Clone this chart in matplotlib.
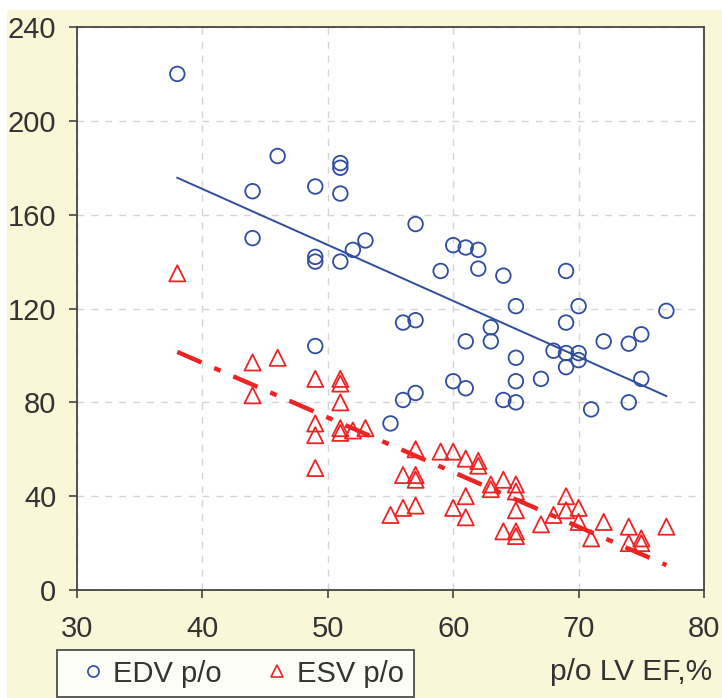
import numpy as np
import matplotlib
matplotlib.use("Agg")
import matplotlib.pyplot as plt
from matplotlib.patches import Rectangle
from matplotlib.lines import Line2D

plt.rcParams['font.family'] = ['Liberation Sans', 'DejaVu Sans']
plt.rcParams['lines.scale_dashes'] = False

# ejection fraction (%) per patient
ef = [38, 44, 44, 46, 49, 49, 49, 49, 51, 51, 51, 51, 52, 53, 55, 56, 56, 57,
      57, 57, 59, 60, 60, 61, 61, 61, 62, 62, 63, 63, 64, 64, 65, 65, 65, 65,
      67, 68, 69, 69, 69, 69, 70, 70, 70, 71, 72, 74, 74, 75, 75, 77]
edv = [220, 170, 150, 185, 172, 142, 140, 104, 182, 180, 169, 140, 145, 149, 71, 114, 81, 156,
       115, 84, 136, 147, 89, 146, 106, 86, 145, 137, 112, 106, 134, 81, 121, 99, 89, 80,
       90, 102, 136, 114, 101, 95, 121, 101, 98, 77, 106, 105, 80, 109, 90, 119]

ef_s = [38, 44, 44, 46, 49, 49, 49, 49, 51, 51, 51, 51, 51, 52, 53, 55, 56, 56,
        57, 57, 57, 57, 59, 60, 60, 61, 61, 61, 62, 62, 63, 63, 64, 64, 65, 65,
        65, 65, 65, 67, 68, 69, 69, 70, 70, 71, 72, 74, 74, 75, 75, 77]
esv = [135, 97, 83, 99, 90, 71, 66, 52, 90, 88, 80, 69, 67, 68, 69, 32, 49, 35,
       60, 49, 47, 36, 59, 59, 35, 56, 40, 31, 55, 53, 45, 43, 47, 25, 45, 42,
       34, 25, 23, 28, 32, 40, 34, 35, 29, 22, 29, 27, 20, 22, 20, 27]

blue = '#2F4C9F'
red = '#EE2424'
text_c = '#333333'

fig = plt.figure(figsize=(7.22, 6.98), dpi=100, facecolor='white')
fig.patches.append(Rectangle((7 / 722, 0), 1, 1 - 10 / 698, transform=fig.transFigure,
                             facecolor='#FAF7D8', edgecolor='none', zorder=-10))

ax = fig.add_axes([77 / 722, 108 / 698, 627 / 722, 563 / 698])
ax.set_facecolor('white')

ax.scatter(ef, edv, s=110, marker='o', facecolors='none', edgecolors=blue, linewidths=1.3, zorder=3)
ax.scatter(ef_s, esv, s=135, marker='^', facecolors='none', edgecolors=red, linewidths=1.3, zorder=3)

# linear trends
xs = np.array([min(ef), max(ef)])
kb = np.polyfit(ef, edv, 1)
ax.plot(xs, np.polyval(kb, xs), color=blue, lw=1.4, zorder=4)
xr = np.array([min(ef_s), max(ef_s)])
kr = np.polyfit(ef_s, esv, 1)
ln, = ax.plot(xr, np.polyval(kr, xr), color=red, lw=3.2, zorder=4)
ln.set_dashes([19, 10, 5, 10])

ax.set_xlim(30, 80)
ax.set_ylim(0, 240)
ax.set_xticks(range(30, 81, 10))
ax.set_yticks(range(0, 241, 40))
ax.grid(True, color='#D5D5D5', linestyle=(0, (5, 5)), lw=1.0, zorder=0)
for s in ax.spines.values():
    s.set_color('#444444')
    s.set_linewidth(1.3)
ax.tick_params(direction='out', length=6, width=1.2, color='#444444',
               labelsize=21, labelcolor=text_c)
ax.tick_params(axis='x', pad=12)
ax.tick_params(axis='y', pad=9)

fig.text(712 / 722, 1 - 672 / 698, 'p/o LV EF,%', ha='right', va='center',
         fontsize=21.5, color=text_c)

handles = [
    Line2D([], [], ls='none', marker='o', ms=8, mfc='none', mec=blue, mew=1.2, label='EDV p/o'),
    Line2D([], [], ls='none', marker='^', ms=9, mfc='none', mec=red, mew=1.2, label='ESV p/o'),
]
leg = fig.legend(handles=handles, loc='lower left', bbox_to_anchor=(57 / 722, 1 / 698),
                 ncol=2, fontsize=21, frameon=True, fancybox=False, handlelength=1.8,
                 handletextpad=-0.2, columnspacing=1.0, borderpad=0.32, borderaxespad=0)
leg.get_frame().set_edgecolor('#222222')
leg.get_frame().set_linewidth(1.3)
for t in leg.get_texts():
    t.set_color(text_c)

fig.savefig('out.png', dpi=100, facecolor=fig.get_facecolor())
